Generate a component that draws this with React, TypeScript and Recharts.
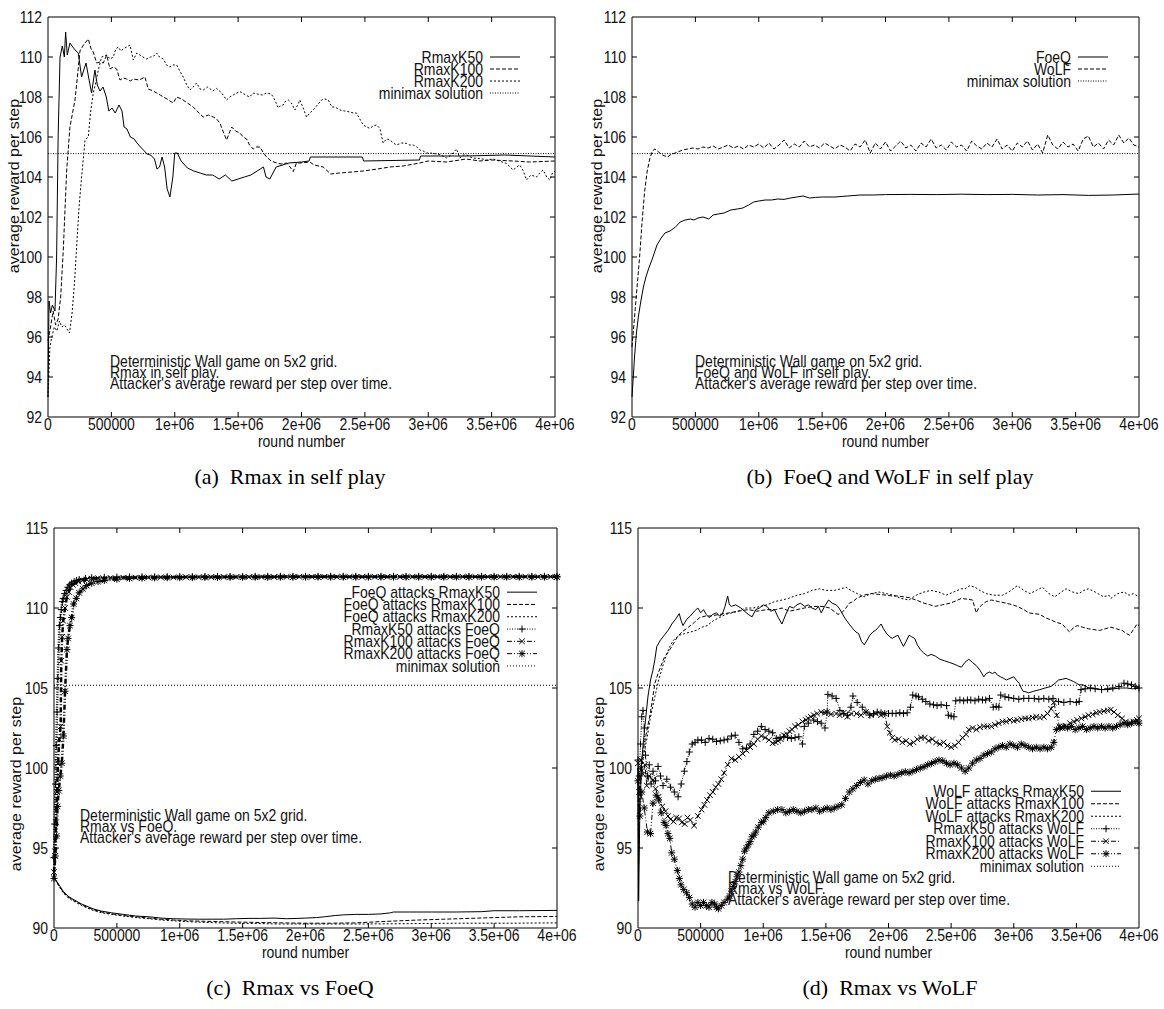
import React from "react";
import {
  LineChart,
  Line,
  XAxis,
  YAxis,
  ReferenceLine,
  ReferenceArea,
  Legend,
} from "recharts";

// x = round number in thousands, y = average reward per step
type Pt = [number, number];

const xTicks = [0, 500000, 1000000, 1500000, 2000000, 2500000, 3000000, 3500000, 4000000];
const yTicksTop = [92, 94, 96, 98, 100, 102, 104, 106, 108, 110, 112];
const yTicksBottom = [90, 95, 100, 105, 110, 115];
const minimaxValue = 105.17;
const minimaxLine: Pt[] = [[0, minimaxValue], [4000, minimaxValue]];

// (a) Rmax in self play
const selfK50: Pt[] = [
  [0, 93.0], [8, 97.8], [20, 97.2], [35, 97.6], [55, 97.3], [68, 100.0], [80, 106.0], [95, 110.0],
  [113, 110.55], [129, 110.0], [139, 111.25], [152, 110.1], [173, 110.7], [195, 110.5], [221, 110.3],
  [239, 110.2], [265, 109.0], [300, 109.7], [320, 109.0], [344, 108.2], [370, 109.35], [389, 108.6],
  [410, 108.3], [434, 108.5], [460, 108.0], [480, 107.3], [505, 107.45], [530, 107.2], [560, 107.6],
  [584, 107.3], [600, 106.5], [623, 106.4], [650, 106.0], [680, 105.9], [702, 105.7], [730, 105.5],
  [760, 105.3], [781, 105.15], [810, 105.1], [840, 104.9], [860, 104.4], [880, 104.5], [900, 105.0],
  [920, 104.5], [940, 103.4], [962, 103.0], [985, 104.0], [1000, 105.2], [1020, 105.2], [1050, 104.8],
  [1100, 104.45], [1150, 104.3], [1200, 104.2], [1250, 104.1], [1300, 104.1], [1350, 103.9],
  [1400, 104.1], [1450, 103.8], [1500, 103.9], [1550, 104.0], [1600, 104.1], [1650, 104.3],
  [1700, 104.5], [1720, 104.0], [1750, 103.9], [1800, 104.5], [1900, 104.7], [2000, 104.75],
  [2060, 104.8], [2070, 105.0], [2480, 105.0], [2490, 104.8], [2930, 104.85], [2940, 105.05],
  [3300, 105.05], [3600, 105.1], [4000, 105.0],
];
const selfK100: Pt[] = [
  [0, 95.8], [20, 96.5], [40, 97.3], [60, 96.6], [80, 96.9], [100, 98.0], [121, 100.4], [147, 104.3],
  [173, 106.5], [213, 107.85], [235, 109.2], [252, 110.3], [280, 110.6], [318, 110.9], [340, 110.4],
  [357, 110.25], [384, 109.7], [410, 109.75], [436, 109.7], [463, 110.1], [489, 109.4], [515, 109.5],
  [542, 109.4], [568, 108.85], [595, 108.95], [620, 108.9], [650, 108.8], [673, 108.9], [720, 108.85],
  [765, 109.0], [791, 108.4], [830, 108.3], [857, 108.2], [885, 108.1], [910, 108.0], [940, 107.9],
  [962, 107.8], [988, 107.7], [1015, 108.0], [1054, 107.9], [1100, 107.7], [1146, 107.5],
  [1190, 107.2], [1225, 107.0], [1265, 107.1], [1304, 107.0], [1330, 106.9], [1356, 106.7],
  [1380, 106.3], [1409, 105.85], [1430, 106.2], [1449, 106.5], [1480, 106.3], [1514, 106.2],
  [1540, 106.0], [1567, 105.9], [1590, 105.6], [1619, 105.4], [1645, 105.5], [1672, 105.5],
  [1700, 105.2], [1725, 105.0], [1760, 104.8], [1804, 104.7], [1840, 104.65], [1883, 104.7],
  [1910, 104.5], [1935, 104.27], [1960, 104.7], [1987, 104.7], [2066, 104.75], [2100, 104.6],
  [2171, 104.5], [2230, 104.15], [2300, 104.2], [2400, 104.25], [2486, 104.3], [2600, 104.4],
  [2696, 104.5], [2800, 104.55], [2934, 104.7], [3000, 104.8], [3146, 104.75], [3300, 104.9],
  [3407, 104.8], [3500, 104.85], [3670, 104.8], [3800, 104.75], [4000, 104.8],
];
const selfK200: Pt[] = [
  [0, 93.0], [15, 95.5], [30, 96.0], [50, 96.5], [70, 96.3], [90, 96.8], [110, 96.5], [130, 96.6],
  [150, 96.4], [170, 96.2], [190, 97.2], [210, 98.8], [226, 100.5], [245, 102.5], [265, 104.0],
  [280, 105.0], [292, 105.85], [318, 106.0], [335, 107.2], [357, 108.2], [380, 108.8], [397, 109.35],
  [423, 110.0], [463, 110.1], [490, 109.9], [515, 110.0], [535, 110.4], [555, 110.5], [575, 110.3],
  [594, 110.4], [620, 110.5], [647, 110.6], [673, 109.85], [700, 110.2], [726, 110.1], [750, 110.0],
  [778, 109.9], [810, 110.0], [835, 110.05], [857, 110.2], [880, 110.0], [910, 109.9], [935, 109.6],
  [962, 109.5], [990, 109.6], [1015, 109.6], [1040, 109.3], [1067, 109.0], [1095, 108.6],
  [1120, 108.35], [1146, 108.5], [1172, 108.7], [1200, 108.4], [1225, 108.35], [1260, 108.5],
  [1300, 108.3], [1330, 108.43], [1370, 108.2], [1409, 107.85], [1435, 108.0], [1461, 108.1],
  [1490, 108.2], [1514, 108.27], [1560, 108.1], [1590, 108.0], [1619, 108.2], [1650, 108.15],
  [1690, 108.1], [1725, 108.2], [1760, 108.15], [1777, 108.0], [1800, 107.7], [1817, 107.45],
  [1840, 107.6], [1856, 107.6], [1875, 107.8], [1896, 107.85], [1920, 107.7], [1948, 107.35],
  [1970, 107.6], [1987, 107.85], [2010, 107.5], [2040, 107.0], [2065, 107.2], [2092, 107.35],
  [2125, 107.6], [2158, 107.85], [2185, 107.9], [2211, 107.85], [2240, 107.5], [2263, 107.5],
  [2303, 107.35], [2340, 107.3], [2382, 107.25], [2410, 107.2], [2434, 107.2], [2460, 106.9],
  [2487, 106.6], [2515, 106.5], [2539, 106.43], [2565, 106.55], [2592, 106.6], [2618, 106.43],
  [2644, 105.7], [2670, 105.9], [2697, 105.85], [2725, 105.7], [2750, 105.6], [2790, 105.7],
  [2829, 105.68], [2855, 105.6], [2881, 105.6], [2910, 105.5], [2934, 105.35], [2960, 105.3],
  [2986, 105.2], [3020, 105.2], [3065, 105.15], [3100, 105.1], [3144, 104.95], [3180, 105.1],
  [3223, 105.4], [3249, 104.95], [3280, 105.1], [3302, 105.1], [3350, 104.95], [3407, 104.93],
  [3460, 104.85], [3512, 104.9], [3560, 104.8], [3617, 104.68], [3670, 104.35], [3700, 104.5],
  [3722, 104.6], [3750, 104.3], [3775, 103.85], [3810, 104.1], [3854, 104.0], [3880, 104.2],
  [3906, 104.35], [3935, 104.0], [3959, 103.85], [3980, 104.2], [4000, 104.3],
];

// (b) FoeQ and WoLF in self play
const foeqSelf: Pt[] = [
  [0, 93.0], [10, 94.0], [20, 95.0], [35, 96.2], [50, 97.0], [70, 97.8], [90, 98.5], [110, 99.0],
  [130, 99.4], [160, 99.9], [197, 100.6], [230, 100.95], [260, 101.2], [300, 101.3], [343, 101.5],
  [380, 101.75], [420, 101.85], [460, 101.9], [489, 101.85], [520, 101.95], [560, 102.0],
  [606, 101.9], [640, 102.1], [680, 102.15], [726, 102.2], [780, 102.35], [830, 102.4],
  [874, 102.45], [920, 102.6], [960, 102.75], [1000, 102.8], [1050, 102.85], [1100, 102.85],
  [1150, 102.9], [1200, 102.88], [1250, 102.95], [1300, 103.0], [1350, 103.05], [1400, 102.95],
  [1450, 102.98], [1500, 103.0], [1600, 103.0], [1700, 103.05], [1800, 103.1], [1900, 103.1],
  [2000, 103.12], [2200, 103.13], [2400, 103.12], [2600, 103.14], [2800, 103.12], [3000, 103.13],
  [3200, 103.1], [3400, 103.12], [3600, 103.08], [3800, 103.1], [4000, 103.15],
];
const wolfSelf: Pt[] = [
  [0, 95.5], [20, 97.0], [40, 98.5], [60, 100.0], [80, 101.8], [100, 103.3], [120, 104.3],
  [140, 104.9], [160, 105.3], [181, 105.4], [200, 105.3], [220, 105.2], [240, 105.1], [260, 105.05],
  [283, 105.0], [300, 105.1], [320, 105.15], [340, 105.2], [360, 105.25], [380, 105.3], [400, 105.35],
  [440, 105.4], [480, 105.45], [520, 105.4], [560, 105.5], [600, 105.45], [640, 105.55], [680, 105.4],
  [720, 105.5], [760, 105.6], [800, 105.45], [840, 105.55], [880, 105.4], [920, 105.6], [960, 105.5],
  [1000, 105.65], [1040, 105.45], [1080, 105.7], [1120, 105.4], [1160, 105.6], [1200, 105.85],
  [1240, 105.45], [1280, 105.65], [1320, 105.5], [1360, 105.8], [1400, 105.5], [1440, 105.6],
  [1480, 105.45], [1520, 105.7], [1560, 105.55], [1600, 105.4], [1640, 105.6], [1680, 105.5],
  [1720, 105.3], [1760, 105.65], [1800, 105.5], [1840, 105.85], [1880, 105.2], [1920, 105.7],
  [1960, 105.4], [2000, 105.75], [2040, 105.3], [2080, 105.55], [2120, 105.8], [2160, 105.45],
  [2200, 105.6], [2240, 105.3], [2280, 105.7], [2320, 105.5], [2360, 105.9], [2400, 105.45],
  [2440, 105.6], [2480, 105.35], [2520, 105.75], [2560, 105.5], [2600, 105.6], [2640, 105.3],
  [2680, 105.8], [2720, 105.55], [2760, 105.4], [2800, 105.7], [2840, 105.5], [2880, 105.9],
  [2920, 105.4], [2960, 105.6], [3000, 105.3], [3040, 105.7], [3080, 105.5], [3120, 105.8],
  [3160, 105.35], [3200, 105.65], [3240, 105.2], [3280, 106.1], [3320, 105.6], [3360, 105.4],
  [3400, 105.75], [3440, 105.5], [3480, 105.65], [3520, 105.3], [3560, 105.9], [3600, 106.05],
  [3640, 105.5], [3680, 105.7], [3720, 105.4], [3760, 105.85], [3800, 105.6], [3840, 106.1],
  [3880, 105.7], [3920, 105.95], [3960, 105.6], [4000, 105.5],
];

// (c) Rmax vs FoeQ
const foeqVsK50: Pt[] = [
  [0, 93.2], [14, 93.0], [40, 92.7], [73, 92.3], [110, 92.0], [162, 91.75], [220, 91.5], [310, 91.2],
  [380, 91.05], [458, 90.95], [550, 90.85], [650, 90.75], [755, 90.7], [850, 90.62], [950, 90.58],
  [1051, 90.56], [1150, 90.55], [1250, 90.55], [1347, 90.55], [1450, 90.58], [1550, 90.6],
  [1642, 90.6], [1750, 90.62], [1850, 90.58], [1939, 90.6], [2000, 90.62], [2087, 90.65],
  [2150, 90.7], [2236, 90.78], [2300, 90.82], [2400, 90.85], [2500, 90.85], [2600, 90.88],
  [2677, 90.95], [2700, 91.0], [2828, 91.0], [3000, 91.0], [3200, 91.0], [3400, 91.02],
  [3500, 91.08], [3700, 91.08], [4000, 91.1],
];
const foeqVsK100: Pt[] = [
  [0, 93.2], [14, 93.0], [40, 92.65], [73, 92.25], [110, 91.95], [162, 91.7], [220, 91.45],
  [310, 91.15], [380, 91.0], [458, 90.88], [550, 90.78], [650, 90.7], [755, 90.62], [850, 90.55],
  [950, 90.5], [1050, 90.45], [1200, 90.42], [1400, 90.38], [1600, 90.35], [1800, 90.32],
  [2000, 90.3], [2200, 90.3], [2400, 90.32], [2600, 90.4], [2750, 90.45], [2900, 90.5],
  [3100, 90.55], [3300, 90.6], [3500, 90.65], [3700, 90.7], [4000, 90.72],
];
const foeqVsK200: Pt[] = [
  [0, 93.2], [14, 92.95], [40, 92.6], [73, 92.2], [110, 91.9], [162, 91.65], [220, 91.4], [310, 91.1],
  [380, 90.95], [458, 90.85], [550, 90.75], [650, 90.65], [755, 90.58], [850, 90.5], [950, 90.45],
  [1050, 90.4], [1200, 90.35], [1400, 90.3], [1600, 90.28], [1800, 90.25], [2000, 90.25],
  [2400, 90.25], [2800, 90.27], [3200, 90.3], [3600, 90.3], [4000, 90.32],
];
const k50VsFoeq: Pt[] = [
  [0, 94.4], [6, 96.5], [12, 99.0], [18, 101.4], [24, 103.5], [30, 105.6], [37, 107.5], [44, 108.9],
  [51, 109.4], [58, 109.9], [66, 110.4], [73, 110.6], [85, 110.9], [97, 111.1], [110, 111.3],
  [125, 111.45], [140, 111.55], [160, 111.65], [180, 111.72], [200, 111.78], [250, 111.85],
  [300, 111.9], [400, 111.92], [500, 111.93], [600, 111.94], [700, 111.95], [800, 111.95],
  [900, 111.96], [1000, 111.96], [1100, 111.96], [1200, 111.97], [1300, 111.97], [1400, 111.97],
  [1500, 111.97], [1600, 111.98], [1700, 111.98], [1800, 111.98], [1900, 111.98], [2000, 111.98],
  [2100, 111.98], [2200, 111.98], [2300, 111.98], [2400, 111.98], [2500, 111.98], [2600, 111.98],
  [2700, 111.98], [2800, 111.98], [2900, 111.98], [3000, 111.98], [3100, 111.98], [3200, 111.98],
  [3300, 111.98], [3400, 111.98], [3500, 111.98], [3600, 111.98], [3700, 111.98], [3800, 111.98],
  [3900, 111.98], [4000, 111.98],
];
const k100VsFoeq: Pt[] = [
  [0, 93.5], [8, 94.8], [16, 96.6], [24, 98.5], [32, 100.3], [42, 101.8], [53, 102.6], [58, 106.7],
  [65, 108.2], [73, 109.2], [88, 110.0], [103, 110.7], [118, 111.0], [132, 111.3], [150, 111.45],
  [170, 111.55], [195, 111.65], [225, 111.72], [260, 111.78], [300, 111.83], [350, 111.86],
  [450, 111.88], [550, 111.9], [650, 111.9], [750, 111.91], [850, 111.92], [950, 111.92],
  [1050, 111.93], [1150, 111.93], [1250, 111.93], [1350, 111.94], [1450, 111.94], [1550, 111.94],
  [1650, 111.94], [1750, 111.94], [1850, 111.95], [1950, 111.95], [2050, 111.95], [2150, 111.95],
  [2250, 111.95], [2350, 111.95], [2450, 111.95], [2550, 111.95], [2650, 111.95], [2750, 111.95],
  [2850, 111.95], [2950, 111.95], [3050, 111.95], [3150, 111.95], [3250, 111.95], [3350, 111.95],
  [3450, 111.95], [3550, 111.95], [3650, 111.95], [3750, 111.95], [3850, 111.95], [3950, 111.95],
  [4000, 111.95],
];
const k200VsFoeq: Pt[] = [
  [0, 93.1], [10, 94.5], [20, 95.75], [28, 97.6], [38, 98.6], [50, 99.5], [62, 100.3], [75, 102.0],
  [88, 104.8], [103, 107.4], [112, 108.1], [127, 108.9], [141, 109.4], [156, 110.25], [177, 110.6],
  [200, 110.95], [230, 111.2], [260, 111.4], [300, 111.55], [350, 111.65], [400, 111.72],
  [500, 111.8], [600, 111.85], [700, 111.87], [800, 111.88], [900, 111.89], [1000, 111.9],
  [1100, 111.9], [1200, 111.91], [1300, 111.91], [1400, 111.92], [1500, 111.92], [1600, 111.92],
  [1700, 111.92], [1800, 111.93], [1900, 111.93], [2000, 111.93], [2100, 111.93], [2200, 111.93],
  [2300, 111.93], [2400, 111.93], [2500, 111.93], [2600, 111.93], [2700, 111.93], [2800, 111.93],
  [2900, 111.93], [3000, 111.93], [3100, 111.93], [3200, 111.93], [3300, 111.93], [3400, 111.93],
  [3500, 111.93], [3600, 111.93], [3700, 111.93], [3800, 111.93], [3900, 111.93], [4000, 111.93],
];

// (d) Rmax vs WoLF
const wolfVsK50: Pt[] = [
  [0, 100.0], [5, 91.7], [15, 97.5], [30, 100.5], [45, 101.8], [60, 103.0], [80, 104.5], [100, 105.5],
  [119, 106.1], [135, 106.8], [150, 107.6], [180, 108.0], [210, 108.3], [240, 108.6], [270, 109.0],
  [300, 109.3], [329, 109.65], [345, 109.2], [359, 108.9], [390, 109.3], [418, 109.5], [450, 109.8],
  [478, 110.0], [500, 109.7], [523, 109.9], [545, 109.6], [567, 109.4], [597, 109.6], [627, 109.7],
  [650, 109.5], [672, 109.6], [695, 110.1], [716, 110.75], [730, 110.2], [746, 110.1], [780, 110.2],
  [821, 110.0], [850, 109.8], [880, 109.6], [911, 109.45], [940, 109.9], [970, 110.0], [1000, 110.2],
  [1030, 110.1], [1060, 109.8], [1090, 109.9], [1120, 109.4], [1149, 109.0], [1180, 109.6],
  [1209, 110.1], [1240, 110.0], [1270, 110.2], [1298, 110.3], [1330, 110.1], [1360, 110.2],
  [1388, 110.0], [1420, 109.9], [1440, 110.1], [1463, 109.7], [1490, 110.1], [1522, 110.5],
  [1550, 110.3], [1582, 110.2], [1605, 110.0], [1627, 109.7], [1657, 109.3], [1686, 109.0],
  [1716, 108.7], [1740, 108.5], [1761, 108.4], [1785, 107.9], [1806, 107.7], [1830, 108.0],
  [1851, 108.3], [1875, 108.5], [1896, 108.6], [1920, 108.8], [1941, 109.0], [1960, 108.7],
  [1985, 108.4], [2010, 108.2], [2030, 108.1], [2050, 108.2], [2075, 108.3], [2100, 107.9],
  [2119, 107.6], [2140, 107.9], [2164, 108.3], [2185, 108.2], [2209, 108.1], [2230, 107.7],
  [2254, 107.4], [2280, 107.2], [2313, 107.0], [2340, 107.1], [2373, 107.0], [2410, 106.8],
  [2448, 106.7], [2485, 106.6], [2522, 106.5], [2550, 106.4], [2582, 106.3], [2610, 106.6],
  [2641, 106.8], [2670, 106.6], [2701, 106.4], [2731, 106.1], [2761, 105.7], [2780, 105.9],
  [2805, 106.0], [2830, 105.9], [2850, 106.0], [2870, 105.8], [2895, 105.7], [2920, 105.6],
  [2940, 105.5], [2970, 105.6], [3000, 105.7], [3020, 105.5], [3044, 105.3], [3060, 105.0],
  [3074, 104.8], [3100, 104.75], [3119, 104.7], [3160, 104.8], [3209, 104.9], [3250, 105.0],
  [3299, 105.1], [3330, 105.3], [3358, 105.5], [3390, 105.55], [3418, 105.6], [3450, 105.5],
  [3478, 105.4], [3500, 105.3], [3522, 105.2], [3552, 105.2], [3600, 105.0], [3650, 104.95],
  [3700, 104.9], [3750, 104.9], [3800, 104.95], [3850, 105.0], [3900, 105.0], [3950, 104.95],
  [4000, 105.0],
];
const wolfVsK100: Pt[] = [
  [0, 100.0], [5, 95.0], [15, 98.5], [30, 100.5], [50, 101.5], [75, 102.5], [100, 103.5], [135, 105.3],
  [160, 105.9], [179, 106.3], [210, 106.9], [254, 107.4], [285, 107.8], [314, 108.2], [350, 108.5],
  [403, 108.8], [450, 109.1], [493, 109.4], [540, 109.5], [582, 109.5], [650, 109.6], [732, 109.7],
  [800, 109.8], [881, 109.9], [950, 109.8], [1030, 109.9], [1100, 109.9], [1150, 110.0],
  [1209, 109.8], [1270, 109.9], [1328, 110.0], [1400, 110.1], [1477, 110.1], [1530, 110.0],
  [1597, 109.6], [1627, 109.7], [1660, 110.0], [1687, 110.3], [1716, 110.4], [1746, 110.6],
  [1800, 110.8], [1865, 110.9], [1920, 110.85], [1985, 110.8], [2030, 110.75], [2075, 110.75],
  [2120, 110.7], [2164, 110.65], [2220, 110.5], [2284, 110.3], [2330, 110.2], [2373, 110.1],
  [2430, 110.2], [2492, 110.3], [2540, 110.45], [2582, 110.6], [2630, 110.55], [2671, 110.5],
  [2701, 109.7], [2720, 110.0], [2746, 110.2], [2780, 110.4], [2821, 110.5], [2880, 110.4],
  [2940, 110.3], [2990, 110.2], [3029, 110.1], [3080, 109.9], [3119, 109.7], [3160, 109.65],
  [3209, 109.6], [3250, 109.4], [3298, 109.25], [3340, 109.1], [3387, 109.0], [3420, 108.7],
  [3447, 108.5], [3480, 108.8], [3507, 108.9], [3550, 108.8], [3597, 108.7], [3640, 108.65],
  [3686, 108.6], [3730, 108.7], [3775, 108.8], [3820, 108.7], [3865, 108.6], [3900, 108.4],
  [3925, 108.3], [3960, 108.7], [3984, 109.0], [4000, 108.9],
];
const wolfVsK200: Pt[] = [
  [0, 100.0], [5, 94.0], [15, 98.0], [30, 100.0], [50, 101.0], [75, 102.0], [100, 103.2], [130, 104.3],
  [165, 105.5], [195, 106.3], [224, 107.0], [255, 107.6], [284, 108.0], [330, 108.3], [373, 108.4],
  [420, 108.5], [463, 108.6], [510, 108.8], [552, 108.9], [600, 109.2], [650, 109.4], [700, 109.6],
  [750, 109.7], [800, 109.8], [860, 110.0], [920, 110.0], [980, 110.1], [1030, 110.2], [1090, 110.4],
  [1150, 110.5], [1200, 110.6], [1269, 110.8], [1330, 110.9], [1390, 111.1], [1448, 111.2],
  [1500, 111.1], [1567, 111.1], [1620, 111.2], [1660, 111.3], [1700, 111.1], [1750, 110.9],
  [1806, 110.7], [1860, 110.9], [1925, 111.0], [1980, 110.9], [2040, 110.8], [2100, 110.6],
  [2164, 110.5], [2220, 110.8], [2284, 111.0], [2340, 111.1], [2400, 111.0], [2460, 110.8],
  [2520, 111.0], [2580, 111.2], [2612, 111.2], [2650, 111.4], [2690, 111.3], [2730, 111.1],
  [2780, 110.9], [2840, 110.8], [2910, 110.8], [2960, 111.0], [3029, 111.4], [3080, 111.1],
  [3130, 110.9], [3180, 111.1], [3230, 111.3], [3280, 110.9], [3328, 110.7], [3380, 111.0],
  [3417, 111.2], [3470, 111.0], [3520, 110.9], [3560, 111.1], [3597, 111.2], [3650, 111.0],
  [3716, 110.7], [3760, 110.8], [3775, 110.6], [3830, 110.9], [3880, 111.0], [3920, 110.8],
  [3955, 110.9], [4000, 110.7],
];
const k50VsWolf: Pt[] = [
  [0, 100.5], [10, 99.5], [20, 101.5], [30, 103.2], [40, 103.6], [50, 102.5], [60, 100.8], [75, 99.5],
  [90, 100.2], [105, 99.0], [120, 99.8], [140, 99.2], [160, 100.1], [180, 99.5], [200, 98.9],
  [230, 99.3], [260, 98.8], [290, 98.5], [320, 98.2], [345, 99.0], [370, 99.8], [390, 100.4],
  [410, 101.0], [433, 101.5], [455, 101.6], [478, 101.75], [507, 101.75], [537, 101.6], [567, 101.85],
  [597, 101.8], [627, 101.65], [657, 101.7], [687, 101.75], [716, 101.8], [746, 102.0], [776, 102.05],
  [806, 101.6], [836, 101.2], [866, 101.25], [895, 101.5], [925, 102.1], [955, 102.3], [985, 102.6],
  [1015, 102.4], [1045, 102.3], [1075, 102.2], [1104, 101.85], [1134, 101.9], [1164, 101.95],
  [1194, 101.9], [1224, 101.85], [1254, 101.9], [1284, 101.95], [1313, 101.5], [1328, 102.6],
  [1360, 102.8], [1403, 103.0], [1433, 102.9], [1463, 102.8], [1493, 102.5], [1510, 103.5],
  [1516, 104.6], [1550, 104.5], [1582, 104.35], [1612, 103.6], [1642, 103.4], [1672, 103.3],
  [1700, 103.8], [1716, 104.5], [1750, 104.1], [1791, 103.8], [1820, 103.5], [1851, 103.3],
  [1880, 103.4], [1910, 103.5], [1940, 103.45], [1970, 103.4], [2000, 103.4], [2030, 103.42],
  [2060, 103.4], [2090, 103.45], [2120, 103.4], [2149, 103.45], [2175, 103.8], [2194, 104.56],
  [2220, 104.5], [2239, 104.45], [2270, 104.3], [2298, 104.15], [2330, 104.0], [2360, 103.95],
  [2388, 103.9], [2420, 103.95], [2463, 103.9], [2478, 103.3], [2500, 103.25], [2522, 103.2],
  [2537, 104.2], [2570, 104.25], [2600, 104.2], [2630, 104.25], [2657, 104.25], [2690, 104.2],
  [2720, 104.3], [2750, 104.25], [2776, 104.25], [2806, 104.35], [2836, 103.8], [2860, 103.85],
  [2881, 103.8], [2896, 104.56], [2930, 104.45], [2960, 104.4], [3000, 104.35], [3040, 104.3],
  [3080, 104.35], [3120, 104.35], [3164, 104.35], [3200, 104.3], [3240, 104.35], [3280, 104.3],
  [3313, 104.35], [3358, 104.15], [3400, 104.1], [3450, 104.15], [3500, 104.1], [3522, 104.15],
  [3537, 104.9], [3570, 104.95], [3612, 105.0], [3650, 104.95], [3701, 104.9], [3750, 104.95],
  [3791, 105.0], [3840, 105.1], [3880, 105.3], [3910, 105.25], [3940, 105.2], [3970, 105.1],
  [4000, 105.0],
];
const k100VsWolf: Pt[] = [
  [0, 100.3], [10, 98.5], [25, 100.5], [40, 99.6], [55, 100.2], [70, 98.9], [90, 99.5], [119, 99.25],
  [140, 98.7], [164, 98.2], [194, 97.6], [220, 97.3], [239, 97.0], [260, 96.8], [284, 96.65],
  [305, 96.9], [328, 96.85], [350, 96.6], [373, 96.5], [395, 96.9], [418, 96.75], [448, 96.4],
  [478, 97.0], [507, 97.4], [530, 97.7], [552, 98.0], [575, 98.3], [597, 98.5], [620, 98.8],
  [642, 99.0], [665, 99.3], [687, 99.7], [716, 100.2], [746, 100.6], [776, 100.5], [806, 100.7],
  [836, 100.9], [866, 101.1], [895, 101.3], [925, 101.5], [955, 101.8], [985, 102.0], [1015, 101.9],
  [1045, 101.75], [1075, 101.55], [1100, 101.6], [1119, 101.7], [1140, 101.8], [1164, 102.05],
  [1190, 102.1], [1209, 102.3], [1230, 102.4], [1254, 102.6], [1280, 102.7], [1313, 102.9],
  [1340, 103.0], [1358, 103.1], [1380, 103.2], [1403, 103.3], [1430, 103.4], [1463, 103.5],
  [1490, 103.45], [1507, 103.5], [1540, 103.35], [1582, 103.4], [1610, 103.3], [1642, 103.45],
  [1672, 103.2], [1701, 103.4], [1746, 103.4], [1780, 103.3], [1820, 103.5], [1860, 103.3],
  [1900, 103.4], [1940, 103.3], [1970, 103.4], [1990, 102.6], [2010, 102.2], [2030, 101.9],
  [2050, 101.75], [2080, 101.8], [2110, 101.6], [2140, 101.7], [2170, 101.5], [2200, 101.6],
  [2230, 101.8], [2260, 101.9], [2290, 101.9], [2320, 101.7], [2350, 101.8], [2380, 101.6],
  [2410, 101.5], [2440, 101.6], [2470, 101.4], [2500, 101.3], [2530, 101.4], [2560, 101.6],
  [2590, 101.9], [2620, 102.1], [2641, 102.4], [2671, 102.5], [2701, 102.4], [2731, 102.55],
  [2761, 102.6], [2791, 102.6], [2821, 102.6], [2850, 102.7], [2880, 102.8], [2910, 102.9],
  [2940, 102.9], [2970, 103.0], [3000, 102.95], [3029, 103.0], [3060, 103.05], [3090, 103.1],
  [3119, 103.1], [3150, 103.15], [3180, 103.2], [3209, 103.15], [3240, 103.2], [3270, 103.4],
  [3298, 103.7], [3320, 104.1], [3343, 103.3], [3365, 102.6], [3387, 102.5], [3420, 102.6],
  [3450, 102.8], [3480, 102.9], [3507, 103.0], [3540, 103.1], [3570, 103.2], [3597, 103.3],
  [3630, 103.35], [3660, 103.45], [3686, 103.5], [3720, 103.55], [3750, 103.6], [3775, 103.65],
  [3800, 103.5], [3830, 103.3], [3865, 103.1], [3895, 102.9], [3925, 102.8], [3955, 102.9],
  [3984, 103.0], [4000, 103.1],
];
const k200VsWolf: Pt[] = [
  [0, 99.2], [15, 97.0], [30, 98.5], [50, 97.5], [75, 96.0], [100, 95.9], [120, 97.8], [145, 98.3],
  [165, 98.0], [185, 97.2], [208, 96.6], [224, 96.4], [239, 95.9], [254, 95.6], [269, 94.7],
  [290, 94.3], [314, 93.6], [330, 93.1], [343, 92.7], [365, 92.4], [388, 92.2], [410, 91.9],
  [433, 91.5], [455, 91.3], [478, 91.6], [500, 91.4], [523, 91.6], [545, 91.4], [567, 91.3],
  [590, 91.6], [612, 91.5], [627, 91.3], [642, 91.2], [665, 91.4], [687, 91.6], [716, 91.8],
  [731, 92.0], [746, 92.3], [761, 92.6], [776, 92.9], [791, 93.2], [806, 93.5], [821, 93.9],
  [836, 94.3], [851, 94.8], [866, 95.0], [881, 95.2], [896, 95.4], [910, 95.7], [925, 95.8],
  [940, 96.0], [960, 96.3], [985, 96.6], [1000, 96.65], [1020, 96.9], [1045, 97.2], [1080, 97.3],
  [1115, 97.4], [1149, 97.4], [1180, 97.2], [1210, 97.3], [1240, 97.4], [1269, 97.3], [1300, 97.2],
  [1330, 97.3], [1360, 97.4], [1388, 97.4], [1420, 97.5], [1450, 97.3], [1480, 97.4], [1510, 97.5],
  [1540, 97.4], [1567, 97.5], [1597, 97.6], [1627, 97.7], [1657, 98.1], [1687, 98.5], [1716, 98.7],
  [1746, 98.9], [1776, 99.1], [1806, 99.25], [1836, 99.0], [1866, 99.2], [1895, 99.3],
  [1925, 99.35], [1955, 99.4], [1985, 99.5], [2015, 99.56], [2045, 99.5], [2075, 99.6],
  [2105, 99.7], [2134, 99.77], [2164, 99.7], [2194, 99.8], [2224, 99.9], [2254, 100.0],
  [2284, 100.08], [2313, 100.2], [2343, 100.29], [2373, 100.4], [2403, 100.5], [2433, 100.45],
  [2463, 100.3], [2492, 100.2], [2522, 100.3], [2552, 100.2], [2582, 100.0], [2612, 99.8],
  [2641, 100.0], [2671, 100.3], [2701, 100.5], [2731, 100.6], [2761, 100.8], [2791, 100.9],
  [2821, 101.0], [2850, 101.2], [2880, 101.3], [2910, 101.4], [2940, 101.3], [2970, 101.5],
  [3000, 101.4], [3030, 101.3], [3060, 101.5], [3090, 101.4], [3120, 101.3], [3150, 101.2],
  [3180, 101.3], [3210, 101.2], [3240, 101.3], [3270, 101.2], [3300, 101.3], [3320, 101.6],
  [3340, 102.4], [3370, 102.5], [3400, 102.6], [3430, 102.5], [3460, 102.6], [3490, 102.4],
  [3520, 102.5], [3550, 102.6], [3580, 102.4], [3610, 102.5], [3640, 102.6], [3670, 102.5],
  [3700, 102.6], [3730, 102.5], [3760, 102.6], [3790, 102.5], [3820, 102.6], [3850, 102.7],
  [3880, 102.8], [3910, 102.7], [3940, 102.8], [3970, 102.9], [4000, 102.8],
];

const FONT = "'Liberation Sans', Arial, Helvetica, sans-serif";
const SERIF = "'Liberation Serif', 'Times New Roman', serif";
const CHART_W = 584;
const CHART_H = 480;
// gnuplot text in the figure is stretched vertically
const TALL = 1.15;

const SOLID = undefined;
const DASHED = "4 2";
const DOTTED = "2 2";
const FINE = "1 1.5";
const DASH_DOT = "5 2 1 2";
const DASH_DOT_DOT = "5 2 1 2 1 2";

type MarkerKind = "plus" | "cross" | "star";

interface SeriesDef {
  name: string;
  data: Pt[];
  dash?: string;
  width?: number;
  marker?: MarkerKind;
}

interface PanelDef {
  ox: number;
  oy: number;
  plot: { l: number; t: number; r: number; b: number };
  yDomain: [number, number];
  yTicks: number[];
  series: SeriesDef[];
  legendTop: number;
  legendStep: number;
  legendEnd: number;
  note: { x: number; top: number; lines: string[] };
  titleX: number;
  titleY: number;
  caption: string;
  captionX: number;
  captionY: number;
}

const toRows = (pts: Pt[]) => pts.map(([k, v]) => ({ x: k * 1000, y: v }));

const fmtRound = (v: number) => {
  if (v === 0) return "0";
  if (v === 500000) return "500000";
  return `${v / 1e6}e+06`;
};

const XTick = (props: any) => {
  const { x, y, payload } = props;
  return (
    <text
      transform={`translate(${x},${y}) scale(1,${TALL})`}
      textAnchor="middle"
      dy="0.71em"
      fontSize={14}
      fontFamily={FONT}
      fill="#111"
    >
      {fmtRound(payload.value)}
    </text>
  );
};

const YTick = (props: any) => {
  const { x, y, payload } = props;
  return (
    <text
      transform={`translate(${x},${y}) scale(1,${TALL})`}
      textAnchor="end"
      dy="0.35em"
      fontSize={14}
      fontFamily={FONT}
      fill="#111"
    >
      {payload.value}
    </text>
  );
};

function MarkerShape({ kind, cx, cy }: { kind: MarkerKind; cx: number; cy: number }) {
  const s = 3.5;
  const d = 2.8;
  return (
    <g stroke="#000" strokeWidth={1} fill="none">
      {kind !== "cross" && (
        <>
          <line x1={cx - s} y1={cy} x2={cx + s} y2={cy} />
          <line x1={cx} y1={cy - s} x2={cx} y2={cy + s} />
        </>
      )}
      {kind !== "plus" && (
        <>
          <line x1={cx - d} y1={cy - d} x2={cx + d} y2={cy + d} />
          <line x1={cx - d} y1={cy + d} x2={cx + d} y2={cy - d} />
        </>
      )}
    </g>
  );
}

const markerDot = (kind: MarkerKind) => (props: any) => {
  const { cx, cy, index } = props;
  if (cx == null || cy == null) return <g key={`m-${index}`} />;
  return (
    <g key={`m-${index}`}>
      <MarkerShape kind={kind} cx={cx} cy={cy} />
    </g>
  );
};

// legend drawn as right-aligned text rows followed by a short line sample
function LegendBox({ p }: { p: PanelDef }) {
  const textRight = CHART_W - (p.legendEnd - p.ox);
  return (
    <div style={{ position: "relative", width: CHART_W, height: p.series.length * p.legendStep }}>
      {p.series.map((s, i) => (
        <div
          key={s.name}
          style={{
            position: "absolute",
            top: i * p.legendStep,
            right: textRight,
            height: p.legendStep,
            lineHeight: `${p.legendStep}px`,
            fontSize: 14,
            fontFamily: FONT,
            color: "#111",
            whiteSpace: "nowrap",
            transform: `scaleY(${TALL})`,
          }}
        >
          {s.name}
        </div>
      ))}
      <svg
        width={40}
        height={p.series.length * p.legendStep}
        style={{ position: "absolute", left: p.legendEnd - p.ox + 5, top: 0, overflow: "visible" }}
      >
        {p.series.map((s, i) => {
          const cy = i * p.legendStep + p.legendStep / 2;
          return (
            <g key={s.name}>
              <line x1={2} y1={cy} x2={32} y2={cy} stroke="#000" strokeWidth={1} strokeDasharray={s.dash} />
              {s.marker && <MarkerShape kind={s.marker} cx={17} cy={cy} />}
            </g>
          );
        })}
      </svg>
    </div>
  );
}

function Panel({ p }: { p: PanelDef }) {
  const { plot, ox, oy } = p;
  const plotW = plot.r - plot.l;
  const plotH = plot.b - plot.t;
  const [y0, y1] = p.yDomain;
  const tickDy = (5 * (y1 - y0)) / plotH;
  const tickDx = (5 * 4000000) / plotW;
  const text: React.CSSProperties = {
    position: "absolute",
    whiteSpace: "nowrap",
    fontFamily: FONT,
    fontSize: 14,
    lineHeight: "14px",
    color: "#111",
  };

  return (
    <>
      <div style={{ position: "absolute", left: ox, top: oy }}>
        <LineChart
          width={CHART_W}
          height={CHART_H}
          margin={{
            top: plot.t - oy,
            right: ox + CHART_W - plot.r,
            bottom: CHART_H - (plot.b - oy) - 20,
            left: 0,
          }}
        >
          <XAxis
            dataKey="x"
            type="number"
            domain={[0, 4000000]}
            ticks={xTicks}
            interval={0}
            tickLine={false}
            axisLine={false}
            tickSize={0}
            tickMargin={2}
            height={20}
            tick={<XTick />}
          />
          <YAxis
            type="number"
            domain={p.yDomain}
            ticks={p.yTicks}
            interval={0}
            tickLine={false}
            axisLine={false}
            tickSize={0}
            tickMargin={6}
            width={plot.l - ox}
            tick={<YTick />}
          />
          <ReferenceArea x1={0} x2={4000000} y1={y0} y2={y1} fill="none" stroke="#000" strokeWidth={1} />
          {xTicks.slice(1, -1).flatMap((t) => [
            <ReferenceLine key={`xb${t}`} segment={[{ x: t, y: y0 }, { x: t, y: y0 + tickDy }]} stroke="#000" />,
            <ReferenceLine key={`xt${t}`} segment={[{ x: t, y: y1 }, { x: t, y: y1 - tickDy }]} stroke="#000" />,
          ])}
          {p.yTicks.slice(1, -1).flatMap((t) => [
            <ReferenceLine key={`yl${t}`} segment={[{ x: 0, y: t }, { x: tickDx, y: t }]} stroke="#000" />,
            <ReferenceLine key={`yr${t}`} segment={[{ x: 4000000 - tickDx, y: t }, { x: 4000000, y: t }]} stroke="#000" />,
          ])}
          {p.series.map((s) => (
            <Line
              key={s.name}
              name={s.name}
              data={toRows(s.data)}
              dataKey="y"
              type="linear"
              stroke="#000"
              strokeWidth={s.width ?? 1}
              strokeDasharray={s.dash}
              dot={s.marker ? markerDot(s.marker) : false}
              activeDot={false}
              isAnimationActive={false}
            />
          ))}
          <Legend
            layout="horizontal"
            verticalAlign="middle"
            align="center"
            wrapperStyle={{
              top: p.legendTop - oy - p.legendStep / 2,
              left: 0,
              width: CHART_W,
              height: p.series.length * p.legendStep,
            }}
            content={() => <LegendBox p={p} />}
          />
        </LineChart>
      </div>

      <div
        style={{
          ...text,
          left: p.titleX,
          top: p.titleY,
          transform: `translate(-50%, -50%) rotate(-90deg) scale(${TALL}, 1)`,
        }}
      >
        average reward per step
      </div>
      <div
        style={{
          ...text,
          left: (plot.l + plot.r) / 2,
          top: plot.b + 24,
          transform: `translate(-50%, -50%) scale(1, ${TALL})`,
        }}
      >
        round number
      </div>
      {p.note.lines.map((line, i) => (
        <div
          key={line}
          style={{
            ...text,
            left: p.note.x,
            top: p.note.top + i * 11 - 5.5,
            height: 11,
            lineHeight: "11px",
            transform: `scaleY(${TALL})`,
          }}
        >
          {line}
        </div>
      ))}
      <div
        style={{
          position: "absolute",
          left: p.captionX,
          top: p.captionY,
          transform: "translate(-50%, -50%)",
          whiteSpace: "pre",
          fontFamily: SERIF,
          fontSize: 22,
          color: "#000",
        }}
      >
        {p.caption}
      </div>
    </>
  );
}

const minimax: SeriesDef = { name: "minimax solution", data: minimaxLine, dash: FINE };

const panels: PanelDef[] = [
  {
    ox: 0,
    oy: 0,
    plot: { l: 48, t: 17, r: 555, b: 417 },
    yDomain: [92, 112],
    yTicks: yTicksTop,
    series: [
      { name: "RmaxK50", data: selfK50, dash: SOLID },
      { name: "RmaxK100", data: selfK100, dash: DASHED },
      { name: "RmaxK200", data: selfK200, dash: DOTTED },
      minimax,
    ],
    legendTop: 57,
    legendStep: 12,
    legendEnd: 483,
    note: {
      x: 110,
      top: 361,
      lines: [
        "Deterministic Wall game on 5x2 grid.",
        "Rmax in self play.",
        "Attacker's average reward per step over time.",
      ],
    },
    titleX: 14,
    titleY: 186,
    caption: "(a)  Rmax in self play",
    captionX: 290,
    captionY: 477,
  },
  {
    ox: 580,
    oy: 0,
    plot: { l: 632, t: 17, r: 1139, b: 417 },
    yDomain: [92, 112],
    yTicks: yTicksTop,
    series: [
      { name: "FoeQ", data: foeqSelf, dash: SOLID },
      { name: "WoLF", data: wolfSelf, dash: DASHED },
      minimax,
    ],
    legendTop: 57,
    legendStep: 12,
    legendEnd: 1071,
    note: {
      x: 695,
      top: 361,
      lines: [
        "Deterministic Wall game on 5x2 grid.",
        "FoeQ and WoLF in self play.",
        "Attacker's average reward per step over time.",
      ],
    },
    titleX: 597,
    titleY: 186,
    caption: "(b)  FoeQ and WoLF in self play",
    captionX: 890,
    captionY: 477,
  },
  {
    ox: 0,
    oy: 500,
    plot: { l: 54, t: 528, r: 557, b: 928 },
    yDomain: [90, 115],
    yTicks: yTicksBottom,
    series: [
      { name: "FoeQ attacks RmaxK50", data: foeqVsK50, dash: SOLID },
      { name: "FoeQ attacks RmaxK100", data: foeqVsK100, dash: DASHED },
      { name: "FoeQ attacks RmaxK200", data: foeqVsK200, dash: DOTTED },
      { name: "RmaxK50 attacks FoeQ", data: k50VsFoeq, dash: FINE, marker: "plus", width: 2.5 },
      { name: "RmaxK100 attacks FoeQ", data: k100VsFoeq, dash: DASH_DOT, marker: "cross", width: 2.5 },
      { name: "RmaxK200 attacks FoeQ", data: k200VsFoeq, dash: DASH_DOT_DOT, marker: "star", width: 2.5 },
      { ...minimax, dash: "1 2" },
    ],
    legendTop: 592,
    legendStep: 12.3,
    legendEnd: 500,
    note: {
      x: 80,
      top: 815,
      lines: [
        "Deterministic Wall game on 5x2 grid.",
        "Rmax vs FoeQ.",
        "Attacker's average reward per step over time.",
      ],
    },
    titleX: 16,
    titleY: 784,
    caption: "(c)  Rmax vs FoeQ",
    captionX: 290,
    captionY: 988,
  },
  {
    ox: 580,
    oy: 500,
    plot: { l: 638, t: 528, r: 1139, b: 928 },
    yDomain: [90, 115],
    yTicks: yTicksBottom,
    series: [
      { name: "WoLF attacks RmaxK50", data: wolfVsK50, dash: SOLID },
      { name: "WoLF attacks RmaxK100", data: wolfVsK100, dash: DASHED },
      { name: "WoLF attacks RmaxK200", data: wolfVsK200, dash: DOTTED },
      { name: "RmaxK50 attacks WoLF", data: k50VsWolf, dash: FINE, marker: "plus" },
      { name: "RmaxK100 attacks WoLF", data: k100VsWolf, dash: DASH_DOT, marker: "cross" },
      { name: "RmaxK200 attacks WoLF", data: k200VsWolf, dash: DASH_DOT_DOT, marker: "star" },
      { ...minimax, dash: "1 2" },
    ],
    legendTop: 791,
    legendStep: 12.5,
    legendEnd: 1084,
    note: {
      x: 728,
      top: 877,
      lines: [
        "Deterministic Wall game on 5x2 grid.",
        "Rmax vs WoLF.",
        "Attacker's average reward per step over time.",
      ],
    },
    titleX: 599,
    titleY: 784,
    caption: "(d)  Rmax vs WoLF",
    captionX: 890,
    captionY: 988,
  },
];

export default function App() {
  return (
    <div
      style={{
        position: "absolute",
        left: 0,
        top: 0,
        width: 1164,
        height: 1009,
        background: "#fff",
        fontFamily: FONT,
        overflow: "hidden",
      }}
    >
      {panels.map((p) => (
        <Panel key={p.caption} p={p} />
      ))}
    </div>
  );
}
